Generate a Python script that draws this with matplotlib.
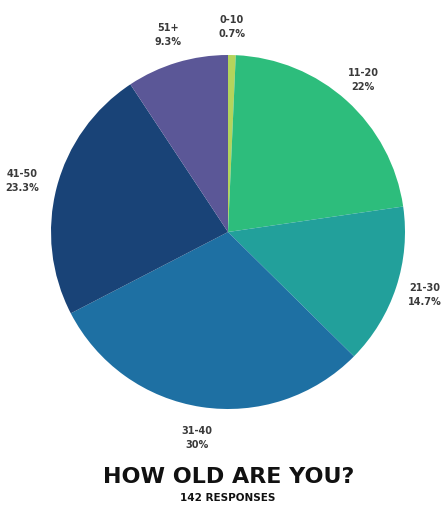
import matplotlib.pyplot as plt

# data
groups = ["0-10", "11-20", "21-30", "31-40", "41-50", "51+"]
shares = [0.7, 22, 14.7, 30, 23.3, 9.3]
share_labels = ["0.7%", "22%", "14.7%", "30%", "23.3%", "9.3%"]
colors = ["#b4d45c", "#2dbd7c", "#22a09b", "#1e70a3", "#194377", "#5b5797"]

# label spots in pixel units (x, y from top)
label_pos = [(232, 27), (363, 80), (425, 295), (197, 438), (22, 181), (168, 35)]

W, H = 446, 510
fig = plt.figure(figsize=(W / 100, H / 100), dpi=100)
ax = fig.add_axes([0, 0, 1, 1])

ax.pie(shares, colors=colors, startangle=90, counterclock=False,
       center=(228, H - 233), radius=177,
       wedgeprops=dict(linewidth=0))

for g, s, (x, y) in zip(groups, share_labels, label_pos):
    ax.text(x, H - y, g + "\n" + s, ha="center", va="center",
            fontsize=7, color="#3a3a3a", fontweight="semibold", linespacing=1.5)

ax.text(229, H - 477, "HOW OLD ARE YOU?", ha="center", va="center",
        fontsize=16, fontweight="heavy", color="#111111")
ax.text(228, H - 498, "142 RESPONSES", ha="center", va="center",
        fontsize=7.5, fontweight="bold", color="#111111")

ax.set_xlim(0, W)
ax.set_ylim(0, H)
ax.set_aspect("equal")
ax.axis("off")

fig.savefig("out.png", dpi=100, facecolor="white")
